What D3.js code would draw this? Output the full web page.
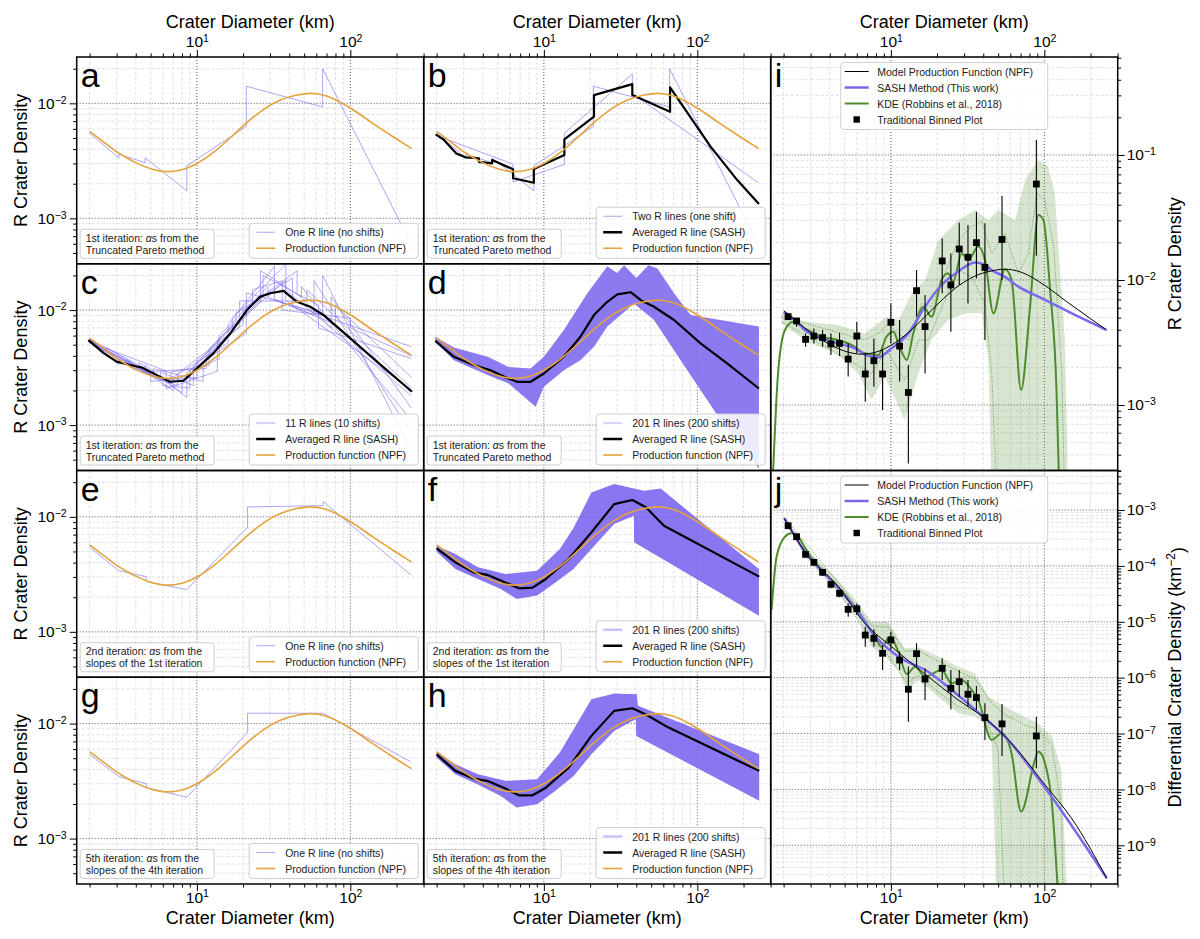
<!DOCTYPE html>
<html>
<head>
<meta charset="utf-8">
<script src="https://cdn.jsdelivr.net/npm/d3@7"></script>
<style>
  body { margin: 0; background: #fff; }
  svg { font-family: "Liberation Sans", Arial, Helvetica, sans-serif; }
</style>
</head>
<body>
<div id="chart"></div>
<script>
// ---- data: [diameter km, value] ----
var npf = [[2,5.7e-3],[2.5,4.55e-3],[3,3.8e-3],[3.5,3.35e-3],[4,3.05e-3],[5,2.7e-3],[6.4,2.55e-3],[8,2.65e-3],[10,3.0e-3],[13,3.8e-3],[17,5.2e-3],[22,7.1e-3],[28,9.1e-3],[35,1.07e-2],[45,1.18e-2],[55,1.22e-2],[70,1.16e-2],[100,9.1e-3],[140,6.7e-3],[200,4.9e-3],[250,4.05e-3]];

var rLineA = [[2,5.5e-3],[3.1,3.35e-3],[3.1,3.6e-3],[4.6,3.05e-3],[4.6,3.35e-3],[8.6,1.74e-3],[8.6,2.86e-3],[21,6.3e-3],[21,1.41e-2],[66,9.3e-3],[66,2.0e-2],[250,5.9e-4]];
var rLineB = [[2,5.25e-3],[6.3,2.96e-3],[6.3,2.07e-3],[13.6,2.94e-3],[13.6,5.5e-3],[37.7,1.8e-2],[37.7,1.22e-2],[250,2.04e-3]];
var sashB = [[1.97,5.37e-3],[2.21,4.86e-3],[2.69,3.67e-3],[3.08,3.39e-3],[3.77,3.33e-3],[3.77,3.1e-3],[4.6,3.0e-3],[4.6,3.21e-3],[6.3,2.67e-3],[6.3,2.23e-3],[8.6,2.04e-3],[8.6,2.69e-3],[13.6,3.55e-3],[13.6,4.86e-3],[21.2,7.65e-3],[21.2,1.18e-2],[37.7,1.47e-2],[37.7,1.18e-2],[66.4,8.45e-3],[66.4,1.38e-2],[122,4.2e-3],[182,2.15e-3],[252,1.33e-3]];

var cLines = [
  rLineA,
  rLineB,
  [[2,5.6e-3],[2.6,4.3e-3],[2.6,4.7e-3],[5.2,2.7e-3],[5.2,3.1e-3],[11,2.4e-3],[11,3.6e-3],[26,1.2e-2],[26,2.2e-2],[48,1.3e-2],[48,1.6e-2],[250,1.1e-3]],
  [[2,5.4e-3],[3.5,3.3e-3],[3.5,3.7e-3],[7,2.0e-3],[7,2.6e-3],[16,5.2e-3],[16,7.5e-3],[32,2.4e-2],[32,1.25e-2],[80,7.5e-3],[80,1.1e-2],[250,2.6e-3]],
  [[2,5.3e-3],[2.8,4.0e-3],[5.8,2.5e-3],[5.8,2.9e-3],[9.5,2.2e-3],[9.5,3.2e-3],[18,8.0e-3],[18,9.5e-3],[42,1.9e-2],[42,1.1e-2],[250,4.8e-3]],
  [[2,5.5e-3],[4.2,3.1e-3],[4.2,3.5e-3],[8,1.9e-3],[8,2.6e-3],[14,3.8e-3],[14,6.0e-3],[29,1.6e-2],[29,1.3e-2],[58,9e-3],[58,1.8e-2],[250,8.5e-4]],
  [[2,5.6e-3],[3.3,3.5e-3],[6.8,2.3e-3],[6.8,2.9e-3],[12,3.3e-3],[12,4.6e-3],[23,1.1e-2],[23,1.5e-2],[36,1.8e-2],[36,1.0e-2],[100,8.5e-3],[100,7e-3],[250,4.0e-3]],
  [[2,5.4e-3],[5,2.8e-3],[5,2.4e-3],[10,2.6e-3],[10,3.6e-3],[20,7.5e-3],[20,1.0e-2],[45,2.2e-2],[45,1.4e-2],[75,7e-3],[75,1.3e-2],[250,1.4e-3]],
  [[2,5.2e-3],[3.8,3.4e-3],[3.8,3.1e-3],[7.5,2.2e-3],[7.5,2.8e-3],[17,6.5e-3],[17,8.5e-3],[38,2.5e-2],[38,1.5e-2],[250,1.8e-3]],
  [[2,5.5e-3],[2.4,4.6e-3],[6,2.4e-3],[6,2.2e-3],[9,2.1e-3],[9,3.0e-3],[19,7.2e-3],[19,1.2e-2],[52,1.2e-2],[52,1.5e-2],[250,2.1e-3]],
  [[2,5.6e-3],[4.4,3.2e-3],[4.4,2.9e-3],[11.5,3.1e-3],[11.5,4.2e-3],[27,1.3e-2],[27,2.0e-2],[62,1.1e-2],[62,7e-3],[250,3.8e-3]]
];
var sashC = [[1.96,5.48e-3],[2.46,4.25e-3],[3.0,3.56e-3],[3.67,3.33e-3],[4.38,3.17e-3],[5.48,2.72e-3],[6.7,2.38e-3],[8.18,2.43e-3],[10,3.11e-3],[12.8,4.2e-3],[16.5,6.26e-3],[21.2,1.0e-2],[25.9,1.31e-2],[30.1,1.4e-2],[36.7,1.47e-2],[44.9,1.18e-2],[54.8,1.07e-2],[67,9.05e-3],[100,5.67e-3],[149,3.56e-3],[252,1.95e-3]];

var dUpper = [[1.96,5.86e-3],[2.59,4.73e-3],[4.3,3.93e-3],[5.9,3.2e-3],[8.2,3.1e-3],[10,3.93e-3],[13.5,6.7e-3],[19.2,1.4e-2],[25.9,2.4e-2],[30,2.1e-2],[33.3,2.46e-2],[40,1.9e-2],[48,2.46e-2],[55,2.3e-2],[70.5,1.4e-2],[90.5,9.05e-3],[252,7.2e-3]];
var dLower = [[1.96,5.3e-3],[2.59,3.67e-3],[4.3,2.72e-3],[5.9,2.3e-3],[8.83,1.44e-3],[10,2.15e-3],[13.5,3.0e-3],[17.3,3.67e-3],[21.2,4.8e-3],[25.9,7.2e-3],[38.6,1.14e-2],[52.2,8.2e-3],[86,3.0e-3],[142,1.1e-3],[252,4.2e-4]];
var sashD = [[1.96,5.4e-3],[2.59,3.93e-3],[3.49,3.33e-3],[4.49,3.0e-3],[5.62,2.6e-3],[6.7,2.38e-3],[8.2,2.38e-3],[10,2.81e-3],[13.5,3.93e-3],[17.3,5.86e-3],[21.2,9.05e-3],[25.9,1.18e-2],[30.1,1.37e-2],[36.8,1.43e-2],[42.8,1.22e-2],[52.2,1.07e-2],[70.5,8.2e-3],[105,5.13e-3],[157,3.43e-3],[252,2.08e-3]];

var rLineE = [[2,5.43e-3],[3.1,3.4e-3],[4.68,3.02e-3],[4.68,2.73e-3],[8.6,2.33e-3],[21.4,8.1e-3],[21.4,1.22e-2],[66.4,1.25e-2],[66.4,1.36e-2],[248,3.13e-3]];

var fUpper = [[2.0,5.6e-3],[2.65,4.75e-3],[3.72,3.64e-3],[5.61,3.19e-3],[9.03,3.4e-3],[12.7,5.26e-3],[15.6,8.0e-3],[20.4,1.63e-2],[28.7,1.93e-2],[44.9,1.69e-2],[57.7,1.76e-2],[252,3.52e-3]];
var fLower = [[2.0,4.97e-3],[2.65,3.52e-3],[3.72,2.88e-3],[5.24,2.36e-3],[6.65,1.93e-3],[9.03,2.07e-3],[11.9,2.69e-3],[15.6,3.52e-3],[20.4,5.26e-3],[28.7,8.67e-3],[38.6,1.02e-2],[38.7,6.0e-3],[252,1.38e-3]];
var sashF = [[2.0,5.32e-3],[2.65,4.02e-3],[3.48,3.29e-3],[4.27,3.13e-3],[5.61,2.69e-3],[6.88,2.39e-3],[8.44,2.42e-3],[10.3,2.88e-3],[14.5,4.3e-3],[20.4,7.33e-3],[28.7,1.29e-2],[37.7,1.4e-2],[46.2,1.21e-2],[60.6,8.38e-3],[253,3.02e-3]];

var rLineG = [[2,5.4e-3],[3.1,3.46e-3],[4.68,3.0e-3],[4.68,2.77e-3],[8.6,2.29e-3],[21.4,8.35e-3],[21.4,1.23e-2],[66.4,1.23e-2],[248,4.64e-3]];

var hUpper = [[2.0,5.68e-3],[2.65,4.43e-3],[3.72,3.62e-3],[5.61,3.18e-3],[9.03,3.28e-3],[12.7,5.6e-3],[15.6,8.9e-3],[20.4,1.63e-2],[28.7,1.83e-2],[40.3,1.8e-2],[41,1.43e-2],[253,5.4e-3]];
var hLower = [[2.0,5.06e-3],[2.65,3.62e-3],[3.72,2.96e-3],[5.24,2.35e-3],[6.65,1.86e-3],[9.03,1.99e-3],[11.9,2.6e-3],[15.6,3.51e-3],[20.4,5.4e-3],[28.7,8.64e-3],[39.6,1.09e-2],[40,7.8e-3],[253,2.13e-3]];
var sashH = [[2.0,5.4e-3],[2.65,3.88e-3],[3.48,3.33e-3],[4.27,3.18e-3],[5.61,2.72e-3],[6.88,2.38e-3],[8.44,2.38e-3],[10.3,2.77e-3],[14.5,4.14e-3],[20.4,7.82e-3],[28.7,1.29e-2],[37.7,1.36e-2],[46.2,1.2e-2],[64.9,9.23e-3],[253,3.88e-3]];

// panel i (R plot) and j (differential plot)
var binD = [2.14,2.43,2.78,3.15,3.59,4.07,4.63,5.27,6.0,6.81,7.75,8.83,10.0,11.4,13.0,14.7,16.7,21.6,24.6,27.9,31.8,36.1,41.0,53,88.7];
var binR = [5.09e-3,4.7e-3,3.35e-3,3.56e-3,3.46e-3,3.08e-3,3.11e-3,2.33e-3,3.56e-3,1.77e-3,2.26e-3,1.77e-3,4.58e-3,2.96e-3,1.26e-3,8.22e-3,4.24e-3,1.42e-2,9.12e-3,1.77e-2,1.52e-2,1.99e-2,1.26e-2,2.11e-2,5.86e-2];
var binRHi = [5.41e-3,4.93e-3,3.74e-3,4.1e-3,3.98e-3,3.74e-3,3.79e-3,3.11e-3,4.64e-3,2.59e-3,3.41e-3,2.75e-3,6.5e-3,4.79e-3,2.09e-3,1.2e-2,7.59e-3,2.15e-2,1.63e-2,2.87e-2,2.75e-2,3.52e-2,2.84e-2,4.7e-2,0.132];
var binRLo = [4.79e-3,4.23e-3,2.93e-3,3.11e-3,2.93e-3,2.51e-3,2.47e-3,1.69e-3,2.59e-3,1.06e-3,1.4e-3,9.1e-4,3.11e-3,1.54e-3,3.41e-4,5.09e-3,1.79e-3,7.82e-3,3.86e-3,9.12e-3,6.5e-3,1.03e-2,3.31e-3,1.0e-2,1.56e-2];
var binDiff = [5.24e-4,3.33e-4,1.61e-4,1.16e-4,7.68e-5,4.68e-5,3.23e-5,1.67e-5,1.71e-5,5.8e-6,5.06e-6,2.73e-6,4.72e-6,2.07e-6,6.2e-7,2.69e-6,9.47e-7,1.47e-6,6.46e-7,8.49e-7,5.05e-7,4.4e-7,1.93e-7,1.49e-7,9.06e-8];
var binDiffHi = [5.78e-4,3.72e-4,1.8e-4,1.31e-4,8.8e-5,5.37e-5,3.71e-5,2.13e-5,2.13e-5,8.18e-6,7.33e-6,3.85e-6,6.65e-6,2.92e-6,1.58e-6,4.12e-6,1.47e-6,2.22e-6,1.37e-6,1.37e-6,9.1e-7,7.1e-7,3.47e-7,3.38e-7,2.0e-7];
var binDiffLo = [4.7e-4,2.98e-4,1.42e-4,1.01e-4,6.6e-5,3.97e-5,2.75e-5,1.23e-5,1.32e-5,3.59e-6,3.59e-6,1.37e-6,3.13e-6,1.37e-6,1.63e-7,1.58e-6,3.99e-7,9.1e-7,2.7e-7,4.57e-7,3.03e-7,2.64e-7,7.67e-8,3.97e-8,2.39e-8];

var iSash = [[2.01,5.58e-3],[2.43,4.64e-3],[2.75,3.98e-3],[3.53,3.41e-3],[4.54,3.11e-3],[5.82,2.84e-3],[7.13,2.47e-3],[8.28,2.41e-3],[10.1,2.84e-3],[13.0,3.74e-3],[16.7,6.12e-3],[21.4,9.12e-3],[27.5,1.17e-2],[35.3,1.38e-2],[41,1.32e-2],[45.4,1.2e-2],[55.4,1.06e-2],[67.7,8.85e-3],[91.4,7.36e-3],[151,5.41e-3],[255,3.98e-3]];
var iKde = [[1.7,2.5e-4],[1.84,1.79e-3],[2.04,3.98e-3],[2.31,4.64e-3],[2.75,4.1e-3],[3.53,3.52e-3],[4.54,3.31e-3],[5.55,3.02e-3],[6.76,2.59e-3],[8.28,2.51e-3],[9.37,3.52e-3],[10.4,3.86e-3],[11.2,3.11e-3],[12.7,2.29e-3],[14.0,3.74e-3],[16.3,6.12e-3],[18.4,5.09e-3],[21.4,1.0e-2],[23.6,1.13e-2],[25.5,9.7e-3],[28.9,1.63e-2],[32,1.45e-2],[37.1,1.85e-2],[41,1.45e-2],[46.6,5.41e-3],[55.4,1.22e-2],[61.2,1.0e-2],[70.5,1.32e-3],[80.7,6.12e-3],[91.4,3.31e-2],[98.6,3.02e-2],[109,8.3e-3],[120,1.32e-3],[124.6,2.5e-4]];
var iBandUpper = [[1.94,5.58e-3],[2.75,4.64e-3],[4.54,4.37e-3],[6.76,3.74e-3],[9.37,5.09e-3],[11.2,4.79e-3],[13.7,7.82e-3],[16.7,1.0e-2],[20.4,2.09e-2],[27.5,3.02e-2],[35.3,3.63e-2],[43.2,3.02e-2],[50.1,3.63e-2],[64.4,3.02e-2],[74.8,6.3e-2],[91.4,9.1e-2],[106,8.07e-2],[117,4.93e-2],[136,3.31e-3],[151,1e-5]];
var iBandLower = [[1.94,4.5e-3],[2.75,3.31e-3],[4.54,2.51e-3],[6.12,1.79e-3],[7.48,1.1e-3],[9.14,1.69e-3],[12.3,7.6e-4],[15.1,1.79e-3],[18.4,3.31e-3],[23.6,4.79e-3],[30.4,5.41e-3],[39.1,5.41e-3],[43.2,2.29e-3],[47.8,1e-5]];
var iDot1 = [[1.94,5.09e-3],[6.76,3.31e-3],[8.7,3.86e-3],[9.62,4.5e-3],[11.7,3.52e-3],[13.0,3.31e-3],[15.8,6.5e-3],[18.4,6.12e-3],[22.5,1.13e-2],[27.5,2.09e-2],[33.6,2.67e-2],[39.1,2.93e-2],[45.4,1.63e-2],[55.4,2.36e-2],[67.7,1.13e-2],[78.7,1.63e-2],[89.2,4.93e-2],[101,4.37e-2],[115,1.85e-2],[130,1.79e-3],[137,1e-4]];
var iDot2 = [[1.94,4.64e-3],[7.48,1.79e-3],[9.37,2.75e-3],[12.3,1.58e-3],[15.1,3.31e-3],[17.5,3.31e-3],[22.5,6.92e-3],[27.5,1.2e-2],[33.6,1.06e-2],[41,6.5e-3],[45.4,1.79e-3],[50.2,1e-4]];

var jNpf = [[2.02,7.1e-4],[2.75,1.8e-4],[4.54,4.25e-5],[6.76,9.4e-6],[10.1,3.59e-6],[16.7,1.16e-6],[27.5,3.99e-7],[41,1.88e-7],[61.2,6.7e-8],[100,1.25e-8],[151,3.0e-9],[255,2.58e-10]];
var jSash = [[2.02,7.1e-4],[2.75,1.8e-4],[4.54,4.0e-5],[6.44,1.24e-5],[7.48,6.65e-6],[11.2,2.38e-6],[17.5,1.28e-6],[24.9,6.03e-7],[41,1.88e-7],[55.4,8.8e-8],[100,1.12e-8],[255,2.58e-10]];
var jKde = [[1.67,1.63e-5],[1.8,1.46e-4],[2.04,3.33e-4],[2.25,3.83e-4],[2.49,3.33e-4],[2.89,1.68e-4],[3.53,8.45e-5],[4.54,4.25e-5],[6.12,1.52e-5],[7.87,5.42e-6],[8.7,3.59e-6],[9.86,5.42e-6],[11.2,2.92e-6],[12.7,1.16e-6],[14.4,1.57e-6],[16.7,1.04e-6],[21.4,1.37e-6],[24.9,7.9e-7],[28.9,9.1e-7],[33.6,6.03e-7],[37.1,4.0e-7],[45.4,7.7e-8],[52.7,1.01e-7],[61.2,4.4e-8],[70.5,4.0e-9],[86.9,3.37e-8],[91.4,4.75e-8],[101,2.94e-8],[112,5.66e-9],[123.5,1e-10]];
var jBandUpper = [[2.04,7.6e-4],[2.75,2.07e-4],[4.54,5.6e-5],[6.12,2.14e-5],[7.48,1.0e-5],[9.62,1.0e-5],[12.3,3.36e-6],[15.1,3.5e-6],[20.4,2.38e-6],[27.5,1.57e-6],[35.3,1.2e-6],[43.2,4.56e-7],[55.4,3.02e-7],[74.8,2.0e-7],[91.4,1.52e-7],[112,8.8e-8],[129,2.23e-8],[147,1e-11]];
var jBandLower = [[2.04,6.6e-4],[2.75,1.46e-4],[4.54,3.23e-5],[6.12,1.15e-5],[7.48,3.59e-6],[9.14,2.38e-6],[11.2,1.37e-6],[12.7,6.03e-7],[15.1,9.1e-7],[20.4,4.56e-7],[27.5,2.3e-7],[35.3,2.0e-7],[41,1.52e-7],[45.4,6.7e-8],[50,1e-11]];
var jDot1 = [[2.04,7.3e-4],[4.54,5.0e-5],[7.48,8.5e-6],[9.62,8e-6],[12.3,3.0e-6],[15.1,3.0e-6],[20.4,2.0e-6],[27.5,1.3e-6],[35.3,9.5e-7],[45.4,3.5e-7],[55.4,2.2e-7],[74.8,1.4e-7],[91.4,1.2e-7],[112,6e-8],[129,5e-9],[135,1e-11]];
var jDot2 = [[2.04,6.9e-4],[4.54,3.6e-5],[7.48,4.5e-6],[9.14,3.0e-6],[12.7,8e-7],[15.1,1.1e-6],[20.4,5.5e-7],[27.5,3.0e-7],[35.3,2.6e-7],[41,2.0e-7],[50,5e-8],[57,1e-11]];

// ---- layout ----
var svgWidth = 1200, svgHeight = 939;
var left = 76.7, top0 = 57, colW = 347, rowH = 206.75;
var xDomain = [Math.pow(10, 0.217), Math.pow(10, 2.478)];
var rDomain = [Math.pow(10, -3.395), Math.pow(10, -1.597)];
var iDomain = [Math.pow(10, -3.524), Math.pow(10, -0.216)];
var jDomain = [Math.pow(10, -9.692), Math.pow(10, -2.293)];

var blue = "#7b68ee", orange = "#e6a23c", green = "#4c8c2c";

var svg = d3.select("#chart").append("svg")
  .attr("width", svgWidth)
  .attr("height", svgHeight);

function logTicks(domain) {
  var major = [], minor = [];
  var lo = Math.floor(Math.log10(domain[0])), hi = Math.ceil(Math.log10(domain[1]));
  for (var e = lo; e <= hi; e++) {
    for (var m = 1; m < 10; m++) {
      var v = +(m * Math.pow(10, e)).toPrecision(6);
      if (v < domain[0] || v > domain[1]) continue;
      (m === 1 ? major : minor).push(v);
    }
  }
  return {major: major, minor: minor};
}

function supLabel(d) {
  var e = Math.round(Math.log10(d));
  var t = d3.select(this).text(null);
  t.append("tspan").text("10");
  t.append("tspan").attr("dy", "-0.5em").attr("font-size", "0.68em")
    .text(e < 0 ? "\u2212" + (-e) : e);
}

var panels = [];

function makePanel(col, row, nRows, yDomain, id) {
  var p = {w: colW, h: rowH * nRows, x0: left + col * colW, y0: top0 + row * rowH};
  p.g = svg.append("g").attr("transform", `translate(${p.x0},${p.y0})`);
  p.x = d3.scaleLog().domain(xDomain).range([0, p.w]);
  p.y = d3.scaleLog().domain(yDomain).range([p.h, 0]);
  p.g.append("clipPath").attr("id", "clip-" + id)
    .append("rect").attr("width", p.w).attr("height", p.h);

  // grid
  var xt = logTicks(xDomain), yt = logTicks(yDomain);
  var grid = p.g.append("g");
  grid.selectAll(".xmin").data(xt.minor).enter().append("line")
    .attr("x1", d => p.x(d)).attr("x2", d => p.x(d)).attr("y1", 0).attr("y2", p.h)
    .attr("stroke", "#d4d4d4").attr("stroke-width", 0.7).attr("stroke-dasharray", "3,2");
  grid.selectAll(".ymin").data(yt.minor).enter().append("line")
    .attr("y1", d => p.y(d)).attr("y2", d => p.y(d)).attr("x1", 0).attr("x2", p.w)
    .attr("stroke", "#d4d4d4").attr("stroke-width", 0.7).attr("stroke-dasharray", "3,2");
  grid.selectAll(".xmaj").data(xt.major).enter().append("line")
    .attr("x1", d => p.x(d)).attr("x2", d => p.x(d)).attr("y1", 0).attr("y2", p.h)
    .attr("stroke", "#444").attr("stroke-width", 0.9).attr("stroke-dasharray", "1,2");
  grid.selectAll(".ymaj").data(yt.major).enter().append("line")
    .attr("y1", d => p.y(d)).attr("y2", d => p.y(d)).attr("x1", 0).attr("x2", p.w)
    .attr("stroke", "#444").attr("stroke-width", 0.9).attr("stroke-dasharray", "1,2");

  p.plot = p.g.append("g").attr("clip-path", `url(#clip-${id})`);
  panels.push(p);
  return p;
}

function addAxis(p, which, labels) {
  var axisFn = {bottom: d3.axisBottom, top: d3.axisTop, left: d3.axisLeft, right: d3.axisRight}[which];
  var sc = (which === "bottom" || which === "top") ? p.x : p.y;
  var t = logTicks(sc.domain());
  var tr = which === "bottom" ? `translate(0,${p.h})` : which === "right" ? `translate(${p.w},0)` : null;
  var pad = {bottom: 0.5, top: 3, left: 3, right: 2}[which];
  var gm = p.g.append("g").attr("transform", tr)
    .call(axisFn(sc).tickValues(t.minor).tickSize(3.5).tickFormat(""));
  var gM = p.g.append("g").attr("transform", tr)
    .call(axisFn(sc).tickValues(t.major).tickSize(7).tickPadding(pad).tickFormat(labels ? (d => d) : ""));
  [gm, gM].forEach(function(a) {
    a.attr("font-family", null).attr("font-size", null);
    a.select(".domain").remove();
    a.selectAll("line").attr("stroke", "#000").attr("stroke-width", 1);
  });
  if (labels) {
    gM.selectAll("text").attr("font-size", 15.5).attr("fill", "#000").each(supLabel);
  }
}

function drawLine(p, data, color, width, opts) {
  opts = opts || {};
  var line = d3.line().x(d => p.x(d[0])).y(d => p.y(d[1])).curve(opts.curve || d3.curveLinear);
  return p.plot.append("path").datum(data).attr("d", line)
    .attr("fill", "none").attr("stroke", color).attr("stroke-width", width)
    .attr("stroke-opacity", opts.opacity || 1)
    .attr("stroke-dasharray", opts.dash || null)
    .attr("stroke-linejoin", "round");
}

function drawBand(p, upper, lower, fill, opacity) {
  var line = d3.line().x(d => p.x(d[0])).y(d => p.y(d[1]));
  p.plot.append("path").attr("d", line(upper.concat(lower.slice().reverse())) + "Z")
    .attr("fill", fill).attr("fill-opacity", opacity).attr("stroke", "none");
}

function addLegend(p, items, opts) {
  var bh = 16 * items.length + 3;
  var bx = opts.center ? (p.w - opts.width) / 2 : p.w - opts.width - 5.5;
  var by = opts.top ? 5.5 : p.h - bh - 5.5;
  var lg = p.g.append("g").attr("transform", `translate(${bx},${by})`);
  lg.append("rect").attr("width", opts.width).attr("height", bh).attr("rx", 3)
    .attr("fill", "#fff").attr("fill-opacity", 0.85).attr("stroke", "#cfcfcf");
  items.forEach(function(it, i) {
    var yy = 13 + 16 * i;
    if (it.marker) {
      lg.append("rect").attr("x", opts.sx0 + (opts.sx1 - opts.sx0) / 2 - 3.2).attr("y", yy - 7.2)
        .attr("width", 6.4).attr("height", 6.4).attr("fill", "#000");
    } else {
      lg.append("line").attr("x1", opts.sx0).attr("x2", opts.sx1).attr("y1", yy - 4).attr("y2", yy - 4)
        .attr("stroke", it.color).attr("stroke-width", it.width).attr("stroke-opacity", it.opacity || 1);
    }
    lg.append("text").attr("x", opts.tx).attr("y", yy).attr("font-size", 10.5).attr("fill", "#222").text(it.label);
  });
}

function addNote(p, line1a, line2) {
  var ng = p.g.append("g").attr("transform", `translate(3.5,${p.h - 29 - 5.5})`);
  ng.append("rect").attr("width", 134).attr("height", 29).attr("rx", 3)
    .attr("fill", "#fff").attr("fill-opacity", 0.85).attr("stroke", "#cfcfcf");
  var t1 = ng.append("text").attr("x", 5.5).attr("y", 12.5).attr("font-size", 10.5).attr("fill", "#222");
  t1.append("tspan").text(line1a + " ");
  t1.append("tspan").attr("font-style", "italic").text("\u03b1");
  t1.append("tspan").text("s from the");
  ng.append("text").attr("x", 5.5).attr("y", 24.5).attr("font-size", 10.5).attr("fill", "#222").text(line2);
}

function addLetter(p, letter) {
  p.g.append("text").attr("x", 4).attr("y", 30).attr("font-size", 34).attr("fill", "#000").text(letter);
}

var lgR = {width: 169, sx0: 7, sx1: 26, tx: 36};
var itemNpf = {label: "Production function (NPF)", color: orange, width: 1.6};
var itemSash = {label: "Averaged R line (SASH)", color: "#000", width: 2.5};

function rLineItem(label) { return {label: label, color: blue, width: 1, opacity: 0.6}; }
function bandItem(label) { return {label: label, color: blue, width: 2.5, opacity: 0.4}; }

// ---- panel a ----
var pa = makePanel(0, 0, 1, rDomain, "a");
drawLine(pa, rLineA, blue, 0.8, {opacity: 0.75});
drawLine(pa, npf, orange, 1.6, {curve: d3.curveMonotoneX});
addNote(pa, "1st iteration:", "Truncated Pareto method");
addLegend(pa, [rLineItem("One R line (no shifts)"), itemNpf], lgR);
addLetter(pa, "a");

// ---- panel b ----
var pb = makePanel(1, 0, 1, rDomain, "b");
[rLineA, rLineB].forEach(l => drawLine(pb, l, blue, 0.8, {opacity: 0.75}));
drawLine(pb, sashB, "#000", 2.2);
drawLine(pb, npf, orange, 1.6, {curve: d3.curveMonotoneX});
addNote(pb, "1st iteration:", "Truncated Pareto method");
addLegend(pb, [rLineItem("Two R lines (one shift)"), itemSash, itemNpf], lgR);
addLetter(pb, "b");

// ---- panel c ----
var pc = makePanel(0, 1, 1, rDomain, "c");
cLines.forEach(l => drawLine(pc, l, blue, 0.8, {opacity: 0.7}));
drawLine(pc, sashC, "#000", 2.2);
drawLine(pc, npf, orange, 1.6, {curve: d3.curveMonotoneX});
addNote(pc, "1st iteration:", "Truncated Pareto method");
addLegend(pc, [rLineItem("11 R lines (10 shifts)"), itemSash, itemNpf], lgR);
addLetter(pc, "c");

// ---- panel d ----
var pd = makePanel(1, 1, 1, rDomain, "d");
drawBand(pd, dUpper, dLower, blue, 0.88);
drawLine(pd, sashD, "#000", 2.2);
drawLine(pd, npf, orange, 1.6, {curve: d3.curveMonotoneX});
addNote(pd, "1st iteration:", "Truncated Pareto method");
addLegend(pd, [rLineItem("201 R lines (200 shifts)"), itemSash, itemNpf], lgR);
addLetter(pd, "d");

// ---- panel e ----
var pe = makePanel(0, 2, 1, rDomain, "e");
drawLine(pe, rLineE, blue, 0.8, {opacity: 0.75});
drawLine(pe, npf, orange, 1.6, {curve: d3.curveMonotoneX});
addNote(pe, "2nd iteration:", "slopes of the 1st iteration");
addLegend(pe, [rLineItem("One R line (no shifts)"), itemNpf], lgR);
addLetter(pe, "e");

// ---- panel f ----
var pf = makePanel(1, 2, 1, rDomain, "f");
drawBand(pf, fUpper, fLower, blue, 0.9);
drawLine(pf, sashF, "#000", 2.2);
drawLine(pf, npf, orange, 1.6, {curve: d3.curveMonotoneX});
addNote(pf, "2nd iteration:", "slopes of the 1st iteration");
addLegend(pf, [bandItem("201 R lines (200 shifts)"), itemSash, itemNpf], lgR);
addLetter(pf, "f");

// ---- panel g ----
var pgp = makePanel(0, 3, 1, rDomain, "g");
drawLine(pgp, rLineG, blue, 0.8, {opacity: 0.75});
drawLine(pgp, npf, orange, 1.6, {curve: d3.curveMonotoneX});
addNote(pgp, "5th iteration:", "slopes of the 4th iteration");
addLegend(pgp, [rLineItem("One R line (no shifts)"), itemNpf], lgR);
addLetter(pgp, "g");

// ---- panel h ----
var ph = makePanel(1, 3, 1, rDomain, "h");
drawBand(ph, hUpper, hLower, blue, 0.9);
drawLine(ph, sashH, "#000", 2.2);
drawLine(ph, npf, orange, 1.6, {curve: d3.curveMonotoneX});
addNote(ph, "5th iteration:", "slopes of the 4th iteration");
addLegend(ph, [bandItem("201 R lines (200 shifts)"), itemSash, itemNpf], lgR);
addLetter(ph, "h");

// ---- panels i and j ----
var lgIJ = {width: 207, sx0: 4, sx1: 28, tx: 36.5, center: true, top: true};
var ijItems = [
  {label: "Model Production Function (NPF)", color: "#000", width: 1},
  {label: "SASH Method (This work)", color: blue, width: 2.5},
  {label: "KDE (Robbins et al., 2018)", color: green, width: 2},
  {label: "Traditional Binned Plot", marker: true}
];

function drawBinned(p, vals, lo, hi) {
  var pts = binD.map((d, k) => ({d: d, v: vals[k], lo: lo[k], hi: hi[k]}));
  p.plot.append("g").selectAll("line").data(pts).enter().append("line")
    .attr("x1", d => p.x(d.d)).attr("x2", d => p.x(d.d))
    .attr("y1", d => p.y(d.lo)).attr("y2", d => p.y(d.hi))
    .attr("stroke", "#000").attr("stroke-width", 1.1);
  p.plot.append("g").selectAll("rect").data(pts).enter().append("rect")
    .attr("x", d => p.x(d.d) - 3.4).attr("y", d => p.y(d.v) - 3.4)
    .attr("width", 6.8).attr("height", 6.8).attr("fill", "#000");
}

var pi = makePanel(2, 0, 2, iDomain, "i");
drawBand(pi, iBandUpper, iBandLower, green, 0.22);
drawLine(pi, iDot1, green, 0.8, {dash: "1,1.5"});
drawLine(pi, iDot2, green, 0.8, {dash: "1,1.5"});
drawLine(pi, iKde, green, 2, {curve: d3.curveMonotoneX});
drawLine(pi, iSash, blue, 2.5, {curve: d3.curveMonotoneX});
drawLine(pi, npf, "#000", 1, {curve: d3.curveMonotoneX});
drawBinned(pi, binR, binRLo, binRHi);
addLegend(pi, ijItems, lgIJ);
addLetter(pi, "i");

var pj = makePanel(2, 2, 2, jDomain, "j");
drawBand(pj, jBandUpper, jBandLower, green, 0.22);
drawLine(pj, jDot1, green, 0.8, {dash: "1,1.5"});
drawLine(pj, jDot2, green, 0.8, {dash: "1,1.5"});
drawLine(pj, jKde, green, 2, {curve: d3.curveMonotoneX});
drawLine(pj, jSash, blue, 2.5, {curve: d3.curveMonotoneX});
drawLine(pj, jNpf, "#000", 1, {curve: d3.curveMonotoneX});
drawBinned(pj, binDiff, binDiffLo, binDiffHi);
addLegend(pj, ijItems, lgIJ);
addLetter(pj, "j");

// ---- axes ----
[pa, pb, pi].forEach(p => addAxis(p, "top", true));
[pgp, ph, pj].forEach(p => addAxis(p, "bottom", true));
[pa, pc, pe, pgp].forEach(p => addAxis(p, "left", true));
[pi, pj].forEach(p => addAxis(p, "right", true));

// frames on top
panels.forEach(function(p) {
  p.g.append("rect").attr("width", p.w).attr("height", p.h)
    .attr("fill", "none").attr("stroke", "#000").attr("stroke-width", 1.5);
});

// ---- axis titles ----
[0, 1, 2].forEach(function(c) {
  var cx = left + colW * (c + 0.5);
  svg.append("text").attr("x", cx).attr("y", 28).attr("text-anchor", "middle")
    .attr("font-size", 18).text("Crater Diameter (km)");
  svg.append("text").attr("x", cx).attr("y", 924).attr("text-anchor", "middle")
    .attr("font-size", 18).text("Crater Diameter (km)");
});
[0, 1, 2, 3].forEach(function(r) {
  var cy = top0 + rowH * (r + 0.5);
  svg.append("text").attr("transform", `translate(26.5,${cy}) rotate(-90)`)
    .attr("text-anchor", "middle").attr("font-size", 18).text("R Crater Density");
});
svg.append("text").attr("transform", `translate(1181,${top0 + rowH}) rotate(-90)`)
  .attr("text-anchor", "middle").attr("font-size", 18).text("R Crater Density");
var jl = svg.append("text").attr("transform", `translate(1181,${top0 + rowH * 3}) rotate(-90)`)
  .attr("text-anchor", "middle").attr("font-size", 18);
jl.append("tspan").text("Differential Crater Density (km");
jl.append("tspan").attr("dy", "-0.5em").attr("font-size", 12).text("\u22122");
jl.append("tspan").attr("dy", "0.5em").text(")");
</script>
</body>
</html>
